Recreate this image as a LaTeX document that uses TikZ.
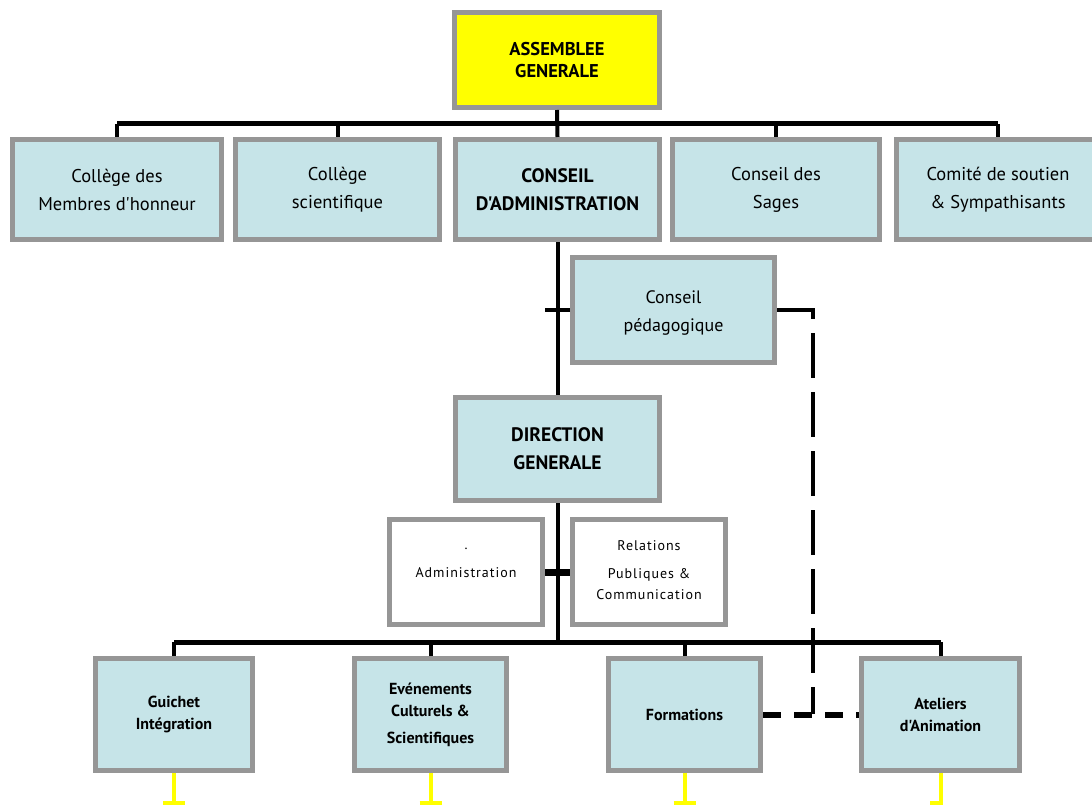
\documentclass[tikz,border=0pt]{standalone}
\usepackage{fontspec}
\setmainfont{PT Sans}[Ligatures=TeXOff]
\definecolor{boxblue}{RGB}{198,228,232}
\definecolor{bordergray}{RGB}{150,150,150}
\definecolor{agyellow}{RGB}{255,255,0}
\begin{document}
\begin{tikzpicture}[x=1pt,y=-1pt]
\useasboundingbox (0,0) rectangle (1092,805);
\tikzset{
  box/.style={draw=bordergray, line width=5pt, fill=boxblue, inner sep=0pt, align=center,
    font=\fontsize{18.5}{28}\selectfont},
  agbox/.style={box, fill=agyellow, font=\fontsize{18.5}{22}\selectfont\bfseries},
  wbox/.style={box, fill=white},
  wtext/.style={align=center, inner sep=0pt, font=\fontsize{14}{21}\selectfont\addfontfeatures{LetterSpace=7}},
  lowbox/.style={box, font=\fontsize{16}{22}\selectfont\bfseries},
  bus/.style={draw=black, line width=5pt},
  vline/.style={draw=black, line width=4pt},
  dashline/.style={draw=black, line width=4pt, dash pattern=on 45pt off 14pt},
  hdash/.style={draw=black, line width=6pt, dash pattern=on 18pt off 13pt},
  ystub/.style={draw=agyellow, line width=4pt},
}
% top
\node[agbox, minimum width=205pt, minimum height=95pt] (ag) at (557,60) {ASSEMBLEE\\GENERALE};
% row 2
\node[box, minimum width=209pt, minimum height=100pt] (b1) at (117,189.5) {Collège des\\Membres d'honneur};
\node[box, minimum width=204pt, minimum height=100pt] (b2) at (337.5,189.5) {Collège\\scientifique};
\node[box, minimum width=204pt, minimum height=100pt, font=\fontsize{19.5}{28}\selectfont\bfseries] (b3) at (557.5,189.5) {CONSEIL\\D'ADMINISTRATION};
\node[box, minimum width=207pt, minimum height=100pt] (b4) at (776,189.5) {Conseil des\\Sages};
\node[box, minimum width=203pt, minimum height=100pt] (b5) at (998,189.5) {Comité de soutien\\\& Sympathisants};
% middle
\node[box, minimum width=202pt, minimum height=105pt, font=\fontsize{18}{28}\selectfont] (cp) at (673.5,310) {};
\node[font=\fontsize{18}{28}\selectfont, align=center, inner sep=0pt] (cpt) at (673.5,313) {Conseil\\pédagogique};
\node[box, minimum width=204pt, minimum height=103pt, font=\fontsize{19.5}{28}\selectfont\bfseries] (dg) at (557.5,449) {DIRECTION\\GENERALE};
\node[wbox, minimum width=153pt, minimum height=105pt] (adm) at (466,572) {};
\node[wtext, font=\fontsize{14}{28}\selectfont\addfontfeatures{LetterSpace=7}] (admt) at (466,563) {.\\Administration};
\node[wbox, minimum width=153pt, minimum height=105pt] (rel) at (649,572) {};
\node[wtext] (relt) at (649,570) {Relations\\[7pt]Publiques \&\\Communication};
% bottom row
\node[lowbox, minimum width=157pt, minimum height=112pt] (gui) at (174,714.5) {Guichet\\Intégration};
\node[lowbox, minimum width=152pt, minimum height=112pt] (eve) at (430.5,714.5) {Evénements\\Culturels \&\\[5pt]Scientifiques};
\node[lowbox, minimum width=152pt, minimum height=112pt] (form) at (684.5,714.5) {Formations};
\node[lowbox, minimum width=158pt, minimum height=112pt] (atel) at (940.5,714.5) {Ateliers\\d'Animation};
% bus 1
\coordinate (bus1) at (557.5,124);
\draw[bus] (b1.north |- bus1) -- (b5.north |- bus1);
\foreach \n in {b1,b2,b4,b5} \draw[vline] (\n.north) -- (\n.north |- bus1);
\draw[vline] (ag.south) -- (b3.north);
\draw[vline] (b3.south) -- (dg.north);
% conseil pedagogique
\draw[vline] (cp.west) -- ++(-25,0);
\coordinate (dtop) at (813,310);
\coordinate (djoin) at (813,714);
\draw[dashline] (cp.east) -- (dtop) -- (djoin);
\draw[hdash] (form.east) -- (atel.west);
% admin / relations
\draw[draw=black, line width=7pt] (adm.east) -- (rel.west);
% bus 2
\coordinate (bus2) at (557.5,642);
\draw[vline] (dg.south) -- (bus2);
\draw[bus] (gui.north |- bus2) -- (atel.north |- bus2);
\foreach \n in {gui,eve,form,atel} \draw[vline] (\n.north) -- (\n.north |- bus2);
% yellow stubs
\foreach \n in {gui,eve,form} \draw[ystub] (\n.south) -- ++(0,30) ++(-11,0) -- ++(22,0);
\draw[ystub] (atel.south) -- ++(0,30) -- ++(-11,0);
\end{tikzpicture}
\end{document}
